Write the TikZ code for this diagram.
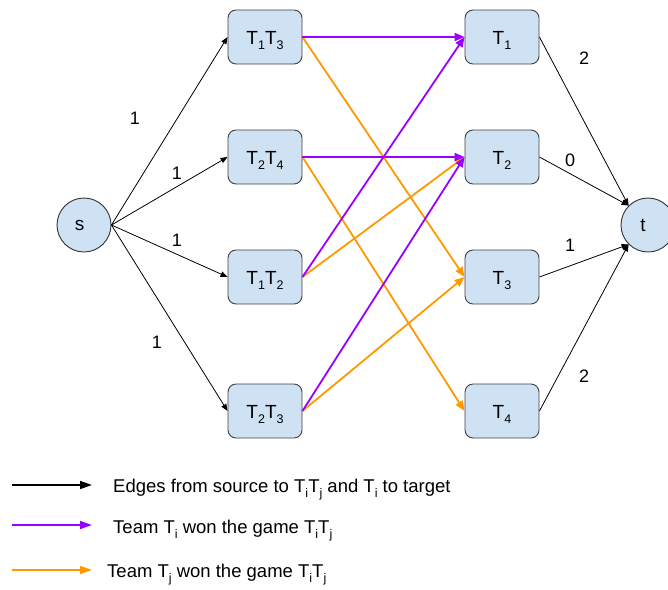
\documentclass[tikz,border=0pt]{standalone}
\usepackage{fontspec}
\setmainfont{Liberation Sans}
\usetikzlibrary{arrows.meta}
\definecolor{boxfill}{HTML}{CFE2F3}
\definecolor{winI}{HTML}{9900FF}
\definecolor{winJ}{HTML}{FF9900}
% lowered small index, as in T_1
\newcommand{\lowsub}[1]{\raisebox{-5pt}{\fontsize{12.5}{12.5}\selectfont #1}}
\begin{document}
\begin{tikzpicture}[x=1pt,y=-1pt,
  team/.style={draw=black!75, line width=0.9pt, fill=boxfill, rounded corners=8pt,
    minimum width=74pt, minimum height=54pt, inner sep=0pt,
    text height=14pt, text depth=0pt, font=\fontsize{19}{21}\selectfont},
  term/.style={circle, draw=black!80, line width=0.9pt, fill=boxfill,
    minimum size=54pt, inner sep=0pt, font=\fontsize{19}{21}\selectfont},
  weight/.style={font=\fontsize{18}{20}\selectfont, inner sep=0pt},
  keytext/.style={font=\fontsize{18.5}{21}\selectfont, inner sep=0pt, anchor=base west},
  flow/.style={draw=black, line width=0.8pt, -{Triangle[length=7pt,width=5.5pt]}},
  wini/.style={draw=winI, line width=1.8pt, -{Triangle[length=10pt,width=8pt]}},
  winj/.style={draw=winJ, line width=1.8pt, -{Triangle[length=10pt,width=8pt]}},
  keyline/.style={line width=1.5pt, -{Triangle[length=12pt,width=8pt]}}]
\useasboundingbox (0,0) rectangle (668,589);

% source and target
\node[term] (s) at (84,225) {\hspace*{-9pt}s};
\node[term] (t) at (648,225) {\hspace*{-10pt}t};

% game nodes
\node[team] (g13) at (265,37)  {T\lowsub{1}T\lowsub{3}};
\node[team] (g24) at (265,157) {T\lowsub{2}T\lowsub{4}};
\node[team] (g12) at (265,277) {T\lowsub{1}T\lowsub{2}};
\node[team] (g23) at (265,411) {T\lowsub{2}T\lowsub{3}};

% team nodes
\node[team] (p1) at (502,37)  {T\lowsub{1}};
\node[team] (p2) at (502,157) {T\lowsub{2}};
\node[team] (p3) at (502,277) {T\lowsub{3}};
\node[team] (p4) at (502,411) {T\lowsub{4}};

% source edges
\draw[flow] (s.east) -- (g13.west);
\draw[flow] (s.east) -- (g24.west);
\draw[flow] (s.east) -- (g12.west);
\draw[flow] (s.east) -- (g23.west);

% target edges
\draw[flow] (p1.east) -- (t.135);
\draw[flow] (p2.east) -- (t.135);
\draw[flow] (p3.east) -- (t.225);
\draw[flow] (p4.east) -- (t.225);

% winner of each game
\draw[winj] (g13.east) -- (p3.west);
\draw[winj] (g24.east) -- (p4.west);
\draw[winj] (g12.east) -- (p2.west);
\draw[winj] (g23.east) -- (p3.west);
\draw[wini] (g13.east) -- (p1.west);
\draw[wini] (g24.east) -- (p2.west);
\draw[wini] (g12.east) -- (p1.west);
\draw[wini] (g23.east) -- (p2.west);

% capacities
\node[weight] (c13) at (135,118) {1};
\node[weight] (c24) at (177,173) {1};
\node[weight] (c12) at (177,240) {1};
\node[weight] (c23) at (157,342) {1};
\node[weight] (r1) at (584,58)  {2};
\node[weight] (r2) at (570,160) {0};
\node[weight] (r3) at (570,245) {1};
\node[weight] (r4) at (584,376) {2};

% key
\coordinate (k1a) at (12,485);  \coordinate (k1b) at (92,485);
\coordinate (k2a) at (12,525);  \coordinate (k2b) at (92,525);
\coordinate (k3a) at (12,570);  \coordinate (k3b) at (92,570);
\draw[keyline, draw=black] (k1a) -- (k1b);
\draw[keyline, draw=winI] (k2a) -- (k2b);
\draw[keyline, draw=winJ] (k3a) -- (k3b);
\node[keytext] (k1t) at (113,492) {Edges from source to T\lowsub{i}T\lowsub{j} and T\lowsub{i} to target};
\node[keytext] (k2t) at (113,533) {Team T\lowsub{i} won the game T\lowsub{i}T\lowsub{j}};
\node[keytext] (k3t) at (107,577) {Team T\lowsub{j} won the game T\lowsub{i}T\lowsub{j}};
\end{tikzpicture}
\end{document}
